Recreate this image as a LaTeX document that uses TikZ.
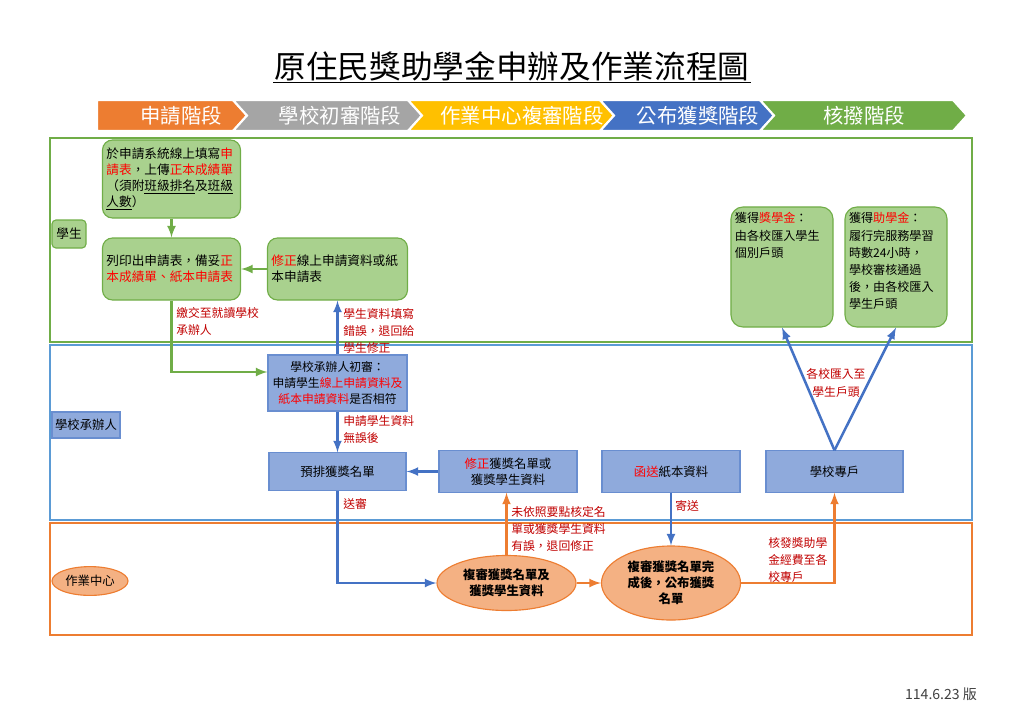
\documentclass[tikz,border=0pt]{standalone}
\usepackage{fontspec}
\setmainfont{Noto Sans CJK TC}
\usetikzlibrary{shapes.geometric,arrows}
\definecolor{cOrange}{HTML}{ED7D31}
\definecolor{cGray}{HTML}{A5A5A5}
\definecolor{cYellow}{HTML}{FFC000}
\definecolor{cBlue}{HTML}{4472C4}
\definecolor{cGreen}{HTML}{70AD47}
\definecolor{laneBlue}{HTML}{5B9BD5}
\definecolor{boxGreen}{HTML}{A9D18E}
\definecolor{boxBlue}{HTML}{8FAADC}
\definecolor{boxOrange}{HTML}{F4B183}
\definecolor{noteRed}{HTML}{C00000}
\newcommand{\hl}[1]{\textcolor{red}{#1}}
\tikzset{
  stubox/.style={draw=cGreen, fill=boxGreen, rounded corners=0.25cm, line width=0.8pt,
    inner xsep=0.1cm, inner ysep=0.1cm, align=left, font=\fontsize{9}{11.3}\selectfont},
  schbox/.style={draw=cBlue!80, fill=boxBlue, line width=0.8pt, align=center,
    font=\fontsize{8.8}{11.4}\selectfont},
  ctrell/.style={ellipse, draw=cOrange, fill=boxOrange, line width=0.8pt, inner sep=0pt,
    align=center, font=\fontsize{8.8}{11.4}\selectfont\bfseries},
  note/.style={text=noteRed, inner sep=0pt, align=left, font=\fontsize{8.4}{12.2}\selectfont},
  lane/.style={line width=1.6pt},
  garrow/.style={draw=cGreen, line width=1.8pt, -latex},
  barrow/.style={draw=cBlue, line width=1.8pt, -latex},
  oarrow/.style={draw=cOrange, line width=1.8pt, -latex}
}
\begin{document}
\begin{tikzpicture}[x=0.025cm,y=-0.025cm]
  \useasboundingbox (0,0) rectangle (1024,725);
  %% title
  \node[inner sep=1pt, font=\fontsize{22.5}{26}\selectfont] (title) at (512,66) {原住民獎助學金申辦及作業流程圖};
  \draw[line width=1.2pt] (title.south west) -- (title.south east);
  %% stages
  \foreach \a/\b/\n/\c/\t/\m in {97/247/0/cOrange/申請階段/181, 233/422/14/cGray/學校初審階段/340,
      408/614/14/cYellow/作業中心複審階段/522, 600/774/14/cBlue/公布獲獎階段/698, 760/967/14/cGreen/核撥階段/864}
  {
    \filldraw[fill=\c, draw=white, line width=1.5pt] (\a,100) -- ({\b-14},100) -- (\b,115.5) -- ({\b-14},131)
      -- (\a,131) -- ({\a+\n},115.5) -- cycle;
    \node[text=white, font=\fontsize{14.5}{16}\selectfont] (stage\m) at (\m,115.5) {\t};
  }
  %% lanes
  \draw[lane, cGreen] (50,138) rectangle (972,342);
  \draw[lane, laneBlue] (50,345) rectangle (972,520);
  \draw[lane, cOrange] (50,523) rectangle (972,635);
  \node[stubox, rounded corners=0.1cm, inner sep=0pt, minimum width=0.85cm, minimum height=0.7cm] (lstu) at (69,234) {學生};
  \node[schbox, inner sep=0pt, minimum width=1.7cm, minimum height=0.65cm] (lsch) at (86,425) {學校承辦人};
  \node[ctrell, font=\fontsize{8.8}{11}\selectfont, minimum width=1.9cm, minimum height=0.72cm] (lctr) at (90,581) {作業中心};
  %% student
  \node[stubox, text width=3.25cm, minimum height=1.95cm] (fill) at (171.5,179)
    {於申請系統線上填寫\hl{申}\\\hl{請表}，上傳\hl{正本成績單}\\（須附\underline{班級排名}及\underline{班級}\\\underline{人數}）};
  \node[stubox, text width=3.25cm, minimum height=1.55cm] (print) at (171.5,269)
    {列印出申請表，備妥\hl{正}\\\hl{本成績單、紙本申請表}};
  \node[stubox, text width=3.3cm, minimum height=1.55cm] (fix) at (337.5,269)
    {\hl{修正}線上申請資料或紙\\本申請表};
  \node[stubox, font=\fontsize{8.6}{12.2}\selectfont, rounded corners=0.3cm, text width=2.35cm,
    text height=0.3cm, text depth=2.5cm] (schol) at (782,267)
    {獲得\hl{獎學金}：\\由各校匯入學生\\個別戶頭};
  \node[stubox, font=\fontsize{8.6}{12.2}\selectfont, rounded corners=0.3cm, text width=2.35cm,
    text height=0.3cm, text depth=2.5cm] (grant) at (896,267)
    {獲得\hl{助學金}：\\履行完服務學習\\時數24小時，\\學校審核通過\\後，由各校匯入\\學生戶頭};
  %% school
  \node[schbox, font=\fontsize{8.4}{11.4}\selectfont, inner xsep=0pt, minimum width=3.475cm, minimum height=1.4cm] (check) at (337.5,383)
    {學校承辦人初審：\\申請學生\hl{線上申請資料及}\\\hl{紙本申請資料}是否相符};
  \node[schbox, minimum width=3.425cm, minimum height=0.93cm] (pre) at (337.5,471.5) {預排獲獎名單};
  \node[schbox, minimum width=3.45cm, minimum height=1.03cm] (fixlist) at (508,471.5) {\hl{修正}獲獎名單或\\獲獎學生資料};
  \node[schbox, minimum width=3.45cm, minimum height=1.03cm] (mail) at (671,471.5) {\hl{函送}紙本資料};
  \node[schbox, minimum width=3.425cm, minimum height=1.03cm] (acct) at (834.5,471.5) {學校專戶};
  %% center
  \node[ctrell, minimum width=3.475cm, minimum height=1.375cm] (review) at (506.5,583) {複審獲獎名單及\\獲獎學生資料};
  \node[ctrell, minimum width=3.475cm, minimum height=1.85cm] (publish) at (671,583) {複審獲獎名單完\\成後，公布獲獎\\名單};
  %% connectors
  \draw[garrow] (fill) -- (print);
  \draw[garrow] (fix) -- (print);
  \draw[garrow] (print.south) |- ([yshift=0.275cm]check.west);
  \draw[barrow] (check) -- (fix);
  \draw[barrow] (check) -- (pre);
  \draw[barrow] (fixlist) -- (pre);
  \draw[barrow] (pre.south) |- (review.west);
  \draw[oarrow] (review.north) -- (review.north |- fixlist.south);
  \draw[oarrow] (review) -- (publish);
  \draw[barrow] (mail) -- (publish);
  \draw[oarrow] (publish.east) -| (acct.south);
  \draw[barrow] (acct.north) -- (schol.south);
  \draw[barrow] (acct.north) -- (grant.south);
  %% notes
  \node[note, anchor=north west] (n1) at (176,307) {繳交至就讀學校\\承辦人};
  \node[note, anchor=north west] (n2) at (343,308) {學生資料填寫\\錯誤，退回給\\學生修正};
  \node[note, anchor=north west] (n3) at (343,415) {申請學生資料\\無誤後};
  \node[note, anchor=north west] (n4) at (343,498) {送審};
  \node[note, anchor=north west] (n5) at (511,506) {未依照要點核定名\\單或獲獎學生資料\\有誤，退回修正};
  \node[note, anchor=north west] (n6) at (675,500) {寄送};
  \node[note, anchor=north west] (n7) at (768,537) {核發獎助學\\金經費至各\\校專戶};
  \node[note, align=center] (n8) at (836,383) {各校匯入至\\學生戶頭};
  %% version
  \node[text=black!75, font=\fontsize{10}{12}\selectfont] (ver) at (941,694) {114.6.23 版};
\end{tikzpicture}
\end{document}
